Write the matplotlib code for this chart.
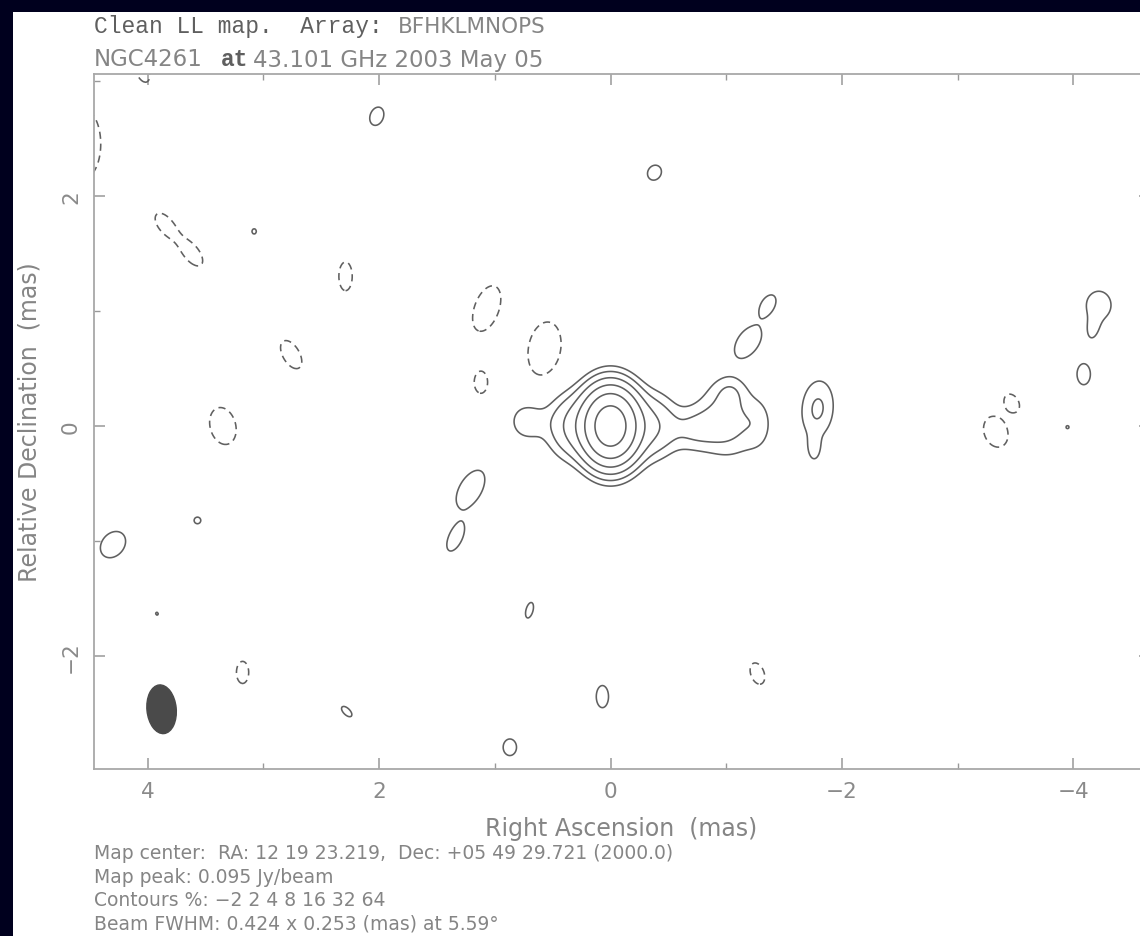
import numpy as np
import matplotlib
matplotlib.use("Agg")
import matplotlib.pyplot as plt
from matplotlib.patches import Ellipse, Rectangle
from matplotlib.ticker import MultipleLocator, FuncFormatter

W, H, DPI = 1140, 937, 100

# ---------------- data ----------------
map_peak = 0.095                      # Jy/beam
contour_pct = [-2, 2, 4, 8, 16, 32, 64]
beam_maj, beam_min, beam_pa = 0.424, 0.253, 5.59
beam_x, beam_y = 3.88, -2.46

# Gaussian model components (x: mas east, y: mas north, amp: Jy/beam,
# FWHM major/minor in mas, PA deg east of north)
core_x   = [0.00, 0.36, 0.72, -0.38, -0.72, -1.00, -1.04, -1.28]
core_y   = [0.00, 0.00, 0.04, 0.00, -0.03, 0.05, 0.30, 0.02]
core_amp = [0.094, 0.0065, 0.0030, 0.0065, 0.0038, 0.0048, 0.0022, 0.0022]
core_maj = [0.44, 0.42, 0.30, 0.42, 0.36, 0.50, 0.22, 0.40]
core_min = [0.33, 0.30, 0.28, 0.30, 0.30, 0.38, 0.22, 0.22]
core_pa  = [0.0, 0.0, 0.0, 0.0, 90.0, 10.0, 0.0, 0.0]

# faint features (positive solid and negative dashed islands)
blob_x   = [2.02, -0.38, -1.36, -1.19, -1.79, -1.76, -4.22, -4.17, -4.09, -3.95,
            4.30, 3.57, 3.92, 2.28, 1.21, 1.34, 0.70, 0.07, 0.87, -4.74, 3.08,
            4.55, 4.05, 3.85, 3.62, 2.29, 2.76, 3.35, 1.07, 0.57, 1.12,
            -3.47, -3.33, 3.18, -1.27, -4.68]
blob_y   = [2.69, 2.20, 1.05, 0.73, 0.15, -0.20, 1.05, 0.85, 0.45, -0.01,
            -1.03, -0.82, -1.63, -2.48, -0.55, -0.97, -1.60, -2.35, -2.79, -2.25, 1.69,
            2.45, 3.10, 1.75, 1.50, 1.30, 0.62, 0.00, 1.02, 0.67, 0.38,
            0.20, -0.05, -2.14, -2.15, -2.57]
blob_amp = [0.0036, 0.0036, 0.0036, 0.0036, 0.0042, 0.0026, 0.0036, 0.0030, 0.0036, 0.0020,
            0.0036, 0.0024, 0.0020, 0.0030, 0.0036, 0.0036, 0.0032, 0.0036, 0.0036, 0.0036, 0.0021,
            -0.0036, -0.0036, -0.0030, -0.0030, -0.0036, -0.0036, -0.0036, -0.0036, -0.0036, -0.0036,
            -0.0030, -0.0034, -0.0036, -0.0036, -0.0036]
blob_maj = [0.17, 0.14, 0.20, 0.32, 0.45, 0.20, 0.22, 0.20, 0.19, 0.10,
            0.26, 0.10, 0.10, 0.14, 0.38, 0.26, 0.16, 0.20, 0.15, 0.30, 0.12,
            0.62, 0.25, 0.28, 0.32, 0.26, 0.28, 0.34, 0.43, 0.49, 0.20,
            0.20, 0.30, 0.20, 0.20, 0.22]
blob_min = [0.12, 0.12, 0.12, 0.19, 0.25, 0.10, 0.25, 0.10, 0.12, 0.10,
            0.20, 0.10, 0.08, 0.07, 0.20, 0.12, 0.07, 0.11, 0.12, 0.28, 0.10,
            0.30, 0.12, 0.15, 0.16, 0.12, 0.15, 0.23, 0.22, 0.29, 0.12,
            0.14, 0.22, 0.11, 0.12, 0.20]
blob_pa  = [-20, -30, -30, -35, -5, 0, 90, -10, 0, 0,
            -40, 0, 20, 45, -30, -25, -15, 0, 0, 0, 0,
            0, 20, 38, 38, 0, 30, 15, -20, -10, 0,
            30, 20, 0, 20, 0]

x_ticks_major = [4, 2, 0, -2, -4]
y_ticks_major = [-2, 0, 2]

# ---------------- model map ----------------
gx = np.linspace(4.9, -4.9, 981)
gy = np.linspace(-3.3, 3.4, 671)
X, Y = np.meshgrid(gx, gy)
Z = np.zeros_like(X)
k = 4 * np.log(2)
for cx, cy, a, mj, mn, pa in zip(core_x + blob_x, core_y + blob_y,
                                 core_amp + blob_amp, core_maj + blob_maj,
                                 core_min + blob_min, core_pa + blob_pa):
    t = np.deg2rad(pa)
    dx, dy = X - cx, Y - cy
    u = dx * np.sin(t) + dy * np.cos(t)
    v = dx * np.cos(t) - dy * np.sin(t)
    Z += a * np.exp(-k * (u**2 / mj**2 + v**2 / mn**2))

levels = [p / 100.0 * map_peak for p in contour_pct]
neg_levels = [l for l in levels if l < 0]
pos_levels = [l for l in levels if l > 0]

# ---------------- figure ----------------
fig = plt.figure(figsize=(W / DPI, H / DPI), dpi=DPI, facecolor="#00001e")
fig.patches.append(Rectangle((13 / W, 0), 1, 1 - 13 / H, transform=fig.transFigure,
                             facecolor="white", edgecolor="none", zorder=-10))

def px(x, y):
    return x / W, 1 - y / H

left, right, top, bottom = 93.6, 1150.0, 75.0, 770.0
ax = fig.add_axes([left / W, 1 - bottom / H, (right - left) / W, (bottom - top) / H])
ax.set_zorder(5)
ax.set_facecolor("white")

x0_px, sx = 610.5, 115.7
y0_px, sy = 427.0, 115.15
ax.set_xlim((x0_px - left) / sx, -(right - x0_px) / sx)
ax.set_ylim(-(bottom - y0_px) / sy, (y0_px - top) / sy)

line_col = "#606060"
ax.contour(X, Y, Z, levels=neg_levels, colors=line_col, linewidths=1.15,
           linestyles=[(0, (4.5, 3.0))])
ax.contour(X, Y, Z, levels=pos_levels, colors=line_col, linewidths=1.15,
           linestyles="solid")

ax.add_patch(Ellipse((beam_x, beam_y), width=beam_min, height=beam_maj, angle=-beam_pa,
                     facecolor="#4a4a4a", edgecolor="#4a4a4a", lw=1))

spine_col = "#a8a8a8"
for s in ax.spines.values():
    s.set_color(spine_col)
    s.set_linewidth(1.3)

ax.xaxis.set_minor_locator(MultipleLocator(1))
ax.yaxis.set_minor_locator(MultipleLocator(1))
ax.set_xticks(x_ticks_major)
ax.set_yticks(y_ticks_major)
fmt = FuncFormatter(lambda v, p: f"{v:.0f}".replace("-", "\u2212"))
ax.xaxis.set_major_formatter(fmt)
ax.yaxis.set_major_formatter(fmt)
ax.tick_params(which="both", direction="in", top=True, right=True, color="#999999",
               labelcolor="#8a8a8a", labelsize=15.5)
ax.tick_params(which="major", length=8, width=1.1, pad=9)
ax.tick_params(which="minor", length=4, width=1.0)
for lab in ax.get_yticklabels():
    lab.set_rotation(90)
    lab.set_va("center")

txt_col = "#858585"
fig.text(*px(621, 829), "Right Ascension  (mas)", ha="center", va="center",
         fontsize=17, color=txt_col)
fig.text(*px(30, 422), "Relative Declination  (mas)", ha="center", va="center",
         rotation=90, fontsize=17, color=txt_col)

# titles
fig.text(*px(94, 27), "Clean LL map.  Array:", ha="left", va="center",
         family="Liberation Mono", fontsize=16.5, color="#5f5f5f")
fig.text(*px(398, 27), "BFHKLMNOPS", ha="left", va="center", fontsize=15.5, color=txt_col)
fig.text(*px(94, 60), "NGC4261", ha="left", va="center", fontsize=16.5, color=txt_col)
fig.text(*px(221, 60), "at", ha="left", va="center", family="Liberation Mono",
         fontsize=16.5, color="#5f5f5f", weight="bold")
fig.text(*px(253, 60), "43.101 GHz 2003 May 05", ha="left", va="center",
         fontsize=16.5, color=txt_col)

foot = ["Map center:  RA: 12 19 23.219,  Dec: +05 49 29.721 (2000.0)",
        "Map peak: 0.095 Jy/beam",
        "Contours %: \u22122 2 4 8 16 32 64",
        "Beam FWHM: 0.424 x 0.253 (mas) at 5.59\u00b0"]
for i, s in enumerate(foot):
    fig.text(*px(94, 854 + i * 23.5), s, ha="left", va="center", fontsize=13.5, color=txt_col)

fig.savefig("out.png", dpi=DPI, facecolor=fig.get_facecolor())
